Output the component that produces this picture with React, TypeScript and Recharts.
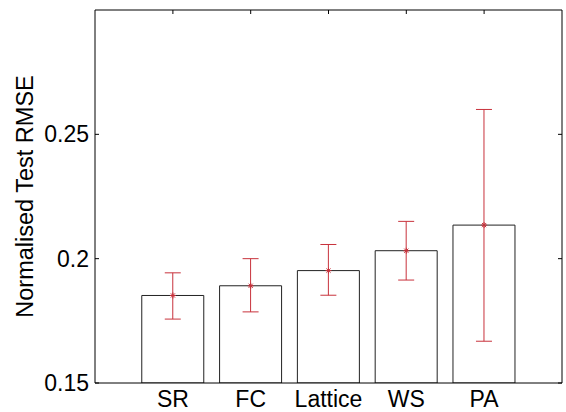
import React from "react";
import {
  ComposedChart,
  Bar,
  Line,
  XAxis,
  YAxis,
  ErrorBar,
  Label,
} from "recharts";

const categories = ["SR", "FC", "Lattice", "WS", "PA"];
const rmse = [0.1852, 0.1891, 0.1952, 0.2032, 0.2135];
const errLower = [0.0095, 0.0105, 0.0099, 0.0118, 0.0467];
const errUpper = [0.0091, 0.0109, 0.0105, 0.0118, 0.0465];
const yTicks = [0.15, 0.2, 0.25];

const data = categories.map((name, i) => ({
  name,
  rmse: rmse[i],
  err: [errLower[i], errUpper[i]],
}));

const RED = "#c8323c";
const FONT = "'Liberation Sans', Arial, sans-serif";

const Star = (props: any) => {
  const { cx, cy } = props;
  if (cx == null || cy == null) return null;
  const r = 3;
  const d = r * 0.7;
  return (
    <g stroke={RED} strokeWidth={1}>
      <line x1={cx - r} y1={cy} x2={cx + r} y2={cy} />
      <line x1={cx} y1={cy - r} x2={cx} y2={cy + r} />
      <line x1={cx - d} y1={cy - d} x2={cx + d} y2={cy + d} />
      <line x1={cx - d} y1={cy + d} x2={cx + d} y2={cy - d} />
    </g>
  );
};

const App = () => {
  return (
    <div style={{ position: "absolute", left: 0, top: 0, background: "#fff" }}>
      <ComposedChart
        width={566}
        height={412}
        data={data}
        margin={{ top: 9, right: 3, bottom: 0, left: 0 }}
        barCategoryGap="10%"
      >
        <XAxis
          dataKey="name"
          padding={{ left: 39, right: 39 }}
          height={29}
          stroke="#000"
          tickLine={false}
          tickMargin={2}
          tick={{ fill: "#000", fontSize: 23, fontFamily: FONT }}
        />
        <XAxis
          xAxisId="top"
          dataKey="name"
          orientation="top"
          padding={{ left: 39, right: 39 }}
          height={1}
          stroke="#000"
          tickSize={-4}
          tickFormatter={() => ""}
        />
        <YAxis
          domain={[0.15, 0.3]}
          ticks={yTicks}
          type="number"
          allowDataOverflow
          width={95}
          stroke="#000"
          tickSize={-4}
          tickMargin={10}
          tickFormatter={(v: number) => String(v)}
          tick={{ fill: "#000", fontSize: 23, fontFamily: FONT }}
        >
          <Label
            value="Normalised Test RMSE"
            angle={-90}
            position="insideLeft"
            offset={25}
            style={{ textAnchor: "middle", fill: "#000", fontSize: 23.5, fontFamily: FONT }}
          />
        </YAxis>
        <YAxis
          yAxisId="right"
          orientation="right"
          domain={[0.15, 0.3]}
          ticks={yTicks}
          type="number"
          allowDataOverflow
          width={1}
          stroke="#000"
          tickSize={-4}
          tickFormatter={() => ""}
        />
        <Bar
          dataKey="rmse"
          fill="#fff"
          stroke="#222"
          strokeWidth={1}
          isAnimationActive={false}
        >
          <ErrorBar dataKey="err" width={8} stroke={RED} strokeWidth={1} />
        </Bar>
        <Line
          dataKey="rmse"
          stroke="none"
          dot={<Star />}
          activeDot={false}
          isAnimationActive={false}
        />
      </ComposedChart>
    </div>
  );
};

export default App;
